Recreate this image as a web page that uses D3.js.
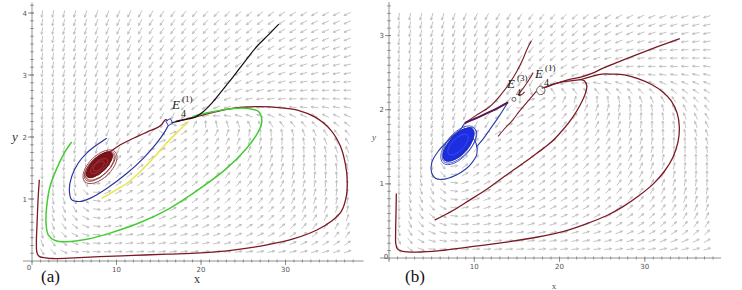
<!DOCTYPE html>
<html>
<head>
<meta charset="utf-8">
<script src="https://cdn.jsdelivr.net/npm/d3@7"></script>
<style>
body { margin: 0; background: #fff; }
svg { display: block; }
</style>
</head>
<body>
<div id="chart"></div>
<script>
// direction field: screen angle in degrees (0 = right, 90 = up)
var fieldX = [1, 5, 9, 13, 17, 21, 25, 29, 33, 37];
var fieldY = [0.1, 0.5, 1.0, 1.5, 2.0, 2.5, 3.0, 3.5, 4.0];
var fieldAngle = [
  [-60, -5, 2, 3, 4, 5, 6, 8, 10, 14],
  [-88, -35, 8, 14, 18, 22, 27, 35, 48, 62],
  [-90, -70, 20, 30, 35, 40, 47, 57, 70, 85],
  [-92, -100, 60, 35, 40, 45, 55, 68, 85, 100],
  [-93, -100, -115, -140, 30, 55, 70, 88, 105, 125],
  [-95, -102, -110, -118, -130, -155, -172, 180, 175, 170],
  [-97, -105, -112, -120, -128, -138, -150, -160, -167, -170],
  [-98, -105, -112, -120, -127, -135, -143, -150, -156, -160],
  [-98, -105, -112, -118, -125, -132, -138, -144, -150, -155]
];

// panel (a) trajectories
var aMaroonLoop = [[0.87,1.31],[0.72,1.0],[0.6,0.6],[0.52,0.3],[0.6,0.13],[0.9,0.07],[1.6,0.05],[2.5,0.04],[5,0.05],[8,0.07],[12,0.09],[16,0.11],[19.9,0.13],[24,0.18],[27.8,0.26],[31,0.36],[33.7,0.5],[35.5,0.65],[36.6,0.8],[37.2,1.05],[37.3,1.3],[37.1,1.55],[36.5,1.85],[35.3,2.12],[33.5,2.32],[31.5,2.43],[29.5,2.47],[27,2.49],[25,2.48],[23.2,2.45],[21.2,2.39],[19.5,2.33],[18.2,2.29],[17,2.25]];
var aMaroonUpper = [[8.84,1.73],[9.23,1.76],[10.4,1.87],[12,1.98],[13.6,2.08],[14.95,2.16],[15.4,2.21],[15.8,2.28],[16.05,2.26]];
var aBlue = [[8.84,1.98],[7.65,1.87],[6.47,1.74],[5.48,1.58],[4.69,1.36],[4.42,1.15],[4.69,0.99],[5.68,0.96],[6.86,1.01],[8.84,1.17],[11.2,1.41],[13.2,1.66],[14.75,1.9],[15.74,2.09],[16.1,2.18]];
var aYellow = [[8.24,1.01],[9.63,1.12],[11.2,1.25],[12.8,1.44],[14.36,1.66],[15.9,1.9],[17.3,2.09],[18.5,2.25]];
var aGreen = [[4.69,1.92],[3.9,1.76],[2.92,1.49],[2.13,1.2],[1.74,0.88],[1.66,0.61],[1.93,0.42],[2.72,0.33],[4.1,0.31],[6.47,0.35],[9.23,0.45],[12.8,0.62],[16.3,0.85],[19.9,1.17],[23.0,1.49],[25.4,1.82],[26.8,2.09],[27.2,2.26],[26.8,2.41],[25.6,2.46],[23.8,2.46],[21.85,2.42],[20.1,2.37],[19.1,2.33]];
var aBlack = [[16.5,2.23],[17.5,2.26],[18.5,2.29],[19.3,2.32],[20.1,2.39],[20.9,2.49],[21.8,2.63],[22.8,2.8],[23.8,2.97],[25.2,3.22],[26.6,3.46],[28,3.65],[29.2,3.82]];
// spiral around the focus: [x1, y1, x2, y2, minor/major]
var aSpiralFill = [[6.55,1.36,9.4,1.74,0.42]];
var aSpiralRings = [[6.35,1.31,9.7,1.74,0.46],[6.25,1.28,9.85,1.76,0.52],[6.45,1.33,9.55,1.73,0.5],[6.9,1.42,9.0,1.66,0.3]];
var aEquilibrium = [16.25, 2.24];

// panel (b) trajectories
var bMaroonLoop = [[0.86,0.87],[0.82,0.6],[0.78,0.35],[0.8,0.19],[1.0,0.12],[1.6,0.09],[3.2,0.08],[6,0.1],[9.5,0.15],[13.5,0.21],[17.3,0.28],[20.5,0.36],[23.1,0.46],[25.5,0.57],[27.4,0.69],[29.3,0.84],[31,1.0],[32.3,1.17],[33.3,1.36],[33.9,1.57],[34.05,1.76],[33.8,1.95],[33.1,2.12],[32.1,2.24],[30.8,2.34],[29.2,2.42],[27.6,2.47],[26.2,2.48],[25,2.48],[23.8,2.45],[22.6,2.41],[21.3,2.39],[20.1,2.37],[19.1,2.34],[18.3,2.3]];
var bMaroonInner = [[5.35,0.51],[7.5,0.64],[9.45,0.78],[11.5,0.93],[13.4,1.09],[15.4,1.25],[17.3,1.41],[19,1.56],[20.4,1.73],[21.5,1.89],[22.4,2.06],[23.0,2.21],[23.2,2.32],[22.9,2.39],[22.3,2.41]];
var bMaroonUp = [[17.9,2.29],[19,2.33],[20,2.37],[21.2,2.41],[22.5,2.44],[23.8,2.49],[25.1,2.56],[27,2.65],[29,2.74],[31.5,2.85],[34.1,2.96]];
var bMaroonDown = [[17.3,2.25],[16.7,2.17],[16.1,2.09],[15.3,1.98],[14.5,1.86],[13.6,1.75],[12.8,1.64]];
var bMaroonSpiralUp = [[8.9,1.82],[10.3,1.93],[11.8,2.04],[13.1,2.2],[14.15,2.36],[15.0,2.52],[15.7,2.68],[16.2,2.82],[16.7,2.93]];
var bMaroonShort = [[16.9,2.5],[16.4,2.4],[15.8,2.3],[15.2,2.2],[15.5,2.2],[15.9,2.24]];
var bMaroonTop = [[8.9,1.82],[10.5,1.9],[12.2,1.99],[13.95,2.1]];
var bBlueOuter = [[13.95,2.1],[12.2,1.99],[10.5,1.9],[8.9,1.82],[8.5,1.75],[7.1,1.6],[5.77,1.44],[5.0,1.28],[5.0,1.15],[5.4,1.08],[6.2,1.06],[7.9,1.12],[9.0,1.2],[9.7,1.28],[10.3,1.4],[10.2,1.55],[9.6,1.65]];
var bBlueInner = [[13.95,2.1],[12.9,1.91],[11.8,1.73],[11,1.6],[10.25,1.5]];
var bSpiralFill = [[6.55,1.32,9.8,1.74,0.44]];
var bSpiralRings = [[6.35,1.28,9.95,1.76,0.5],[6.45,1.3,10.1,1.74,0.46],[6.6,1.34,9.6,1.72,0.55]];
var bEquilibria = [[14.65,2.14,2],[17.8,2.26,4.2]];

var xTicks = [0, 10, 20, 30];
var aYTicks = [1, 2, 3, 4];
var bYTicks = [1, 2, 3];

var svg = d3.select("#chart").append("svg")
  .attr("width", 742).attr("height", 290);

function fieldDir(x, y) {
  var i = d3.bisectRight(fieldX, x) - 1, j = d3.bisectRight(fieldY, y) - 1;
  i = Math.max(0, Math.min(fieldX.length - 2, i));
  j = Math.max(0, Math.min(fieldY.length - 2, j));
  var tx = Math.max(0, Math.min(1, (x - fieldX[i]) / (fieldX[i+1] - fieldX[i])));
  var ty = Math.max(0, Math.min(1, (y - fieldY[j]) / (fieldY[j+1] - fieldY[j])));
  var vx = 0, vy = 0;
  [[i,j,(1-tx)*(1-ty)],[i+1,j,tx*(1-ty)],[i,j+1,(1-tx)*ty],[i+1,j+1,tx*ty]].forEach(function(c) {
    var a = fieldAngle[c[1]][c[0]] * Math.PI / 180;
    vx += c[2] * Math.cos(a); vy += c[2] * Math.sin(a);
  });
  var n = Math.sqrt(vx*vx + vy*vy) || 1;
  return [vx/n, -vy/n];
}

function panel(opt) {
  var x = d3.scaleLinear().domain(opt.xDomain).range(opt.xRange);
  var y = d3.scaleLinear().domain(opt.yDomain).range(opt.yRange);
  var g = svg.append("g");

  // arrows
  var cols = d3.range(opt.gridX[0], opt.gridX[1] + 0.001, opt.gridX[2]);
  var rows = d3.range(opt.gridY[0], opt.gridY[1] + 0.001, opt.gridY[2]);
  var pts = [];
  cols.forEach(function(cx) { rows.forEach(function(cy) { pts.push([cx, cy]); }); });
  g.append("g").selectAll("path")
    .data(pts)
    .enter().append("path")
    .attr("d", function(d) {
      var dir = fieldDir(d[0], d[1]);
      var sx = x(d[0]), sy = y(d[1]), L = 3.6;
      var x0 = sx - dir[0]*L, y0 = sy - dir[1]*L, x1 = sx + dir[0]*L, y1 = sy + dir[1]*L;
      var ang = Math.atan2(dir[1], dir[0]), h = 2.6, w = 0.45;
      var hx1 = x1 - h*Math.cos(ang - w), hy1 = y1 - h*Math.sin(ang - w);
      var hx2 = x1 - h*Math.cos(ang + w), hy2 = y1 - h*Math.sin(ang + w);
      return "M" + x0 + "," + y0 + "L" + x1 + "," + y1 +
        "M" + hx1 + "," + hy1 + "L" + x1 + "," + y1 + "L" + hx2 + "," + hy2;
    })
    .style("fill", "none")
    .attr("stroke", "#bcbcbc")
    .style("stroke-width", 0.9);

  // axes
  var ax = g.append("g").attr("stroke", "#777").style("stroke-width", 0.8);
  ax.append("line").attr("x1", x(opt.xDomain[0]) - 9).attr("x2", x(opt.xDomain[1]) + 2)
    .attr("y1", y(0)).attr("y2", y(0));
  ax.append("line").attr("x1", x(0)).attr("x2", x(0))
    .attr("y1", y(opt.yDomain[1]) + 2).attr("y2", y(0) + 2);
  ax.selectAll(".ymin").data(d3.range(opt.yMinor, opt.yDomain[1], opt.yMinor))
    .enter().append("line")
    .attr("x1", x(0) - 1.8).attr("x2", x(0) + 1.8)
    .attr("y1", function(d) { return y(d); }).attr("y2", function(d) { return y(d); });
  ax.selectAll(".xmin").data(d3.range(1, opt.xDomain[1], 1))
    .enter().append("line")
    .attr("y1", y(0) - 1.5).attr("y2", y(0) + 1.5)
    .attr("x1", function(d) { return x(d); }).attr("x2", function(d) { return x(d); });
  ax.selectAll(".ymaj").data(opt.yTicks)
    .enter().append("line")
    .attr("x1", x(0) - 4).attr("x2", x(0) + 2)
    .attr("y1", function(d) { return y(d); }).attr("y2", function(d) { return y(d); });
  ax.selectAll(".xmaj").data(xTicks)
    .enter().append("line")
    .attr("y1", y(0)).attr("y2", y(0) + 4)
    .attr("x1", function(d) { return x(d); }).attr("x2", function(d) { return x(d); });

  g.selectAll(".ylab").data(opt.yTicks)
    .enter().append("text")
    .attr("x", x(0) - 5).attr("y", function(d) { return y(d) + 2.5; })
    .attr("text-anchor", "end")
    .style("font-family", "DejaVu Sans").style("font-size", "7px").style("fill", "#555")
    .text(function(d) { return d; });
  g.selectAll(".xlab").data(xTicks)
    .enter().append("text")
    .attr("x", function(d) { return d === 0 ? x(d) - 3 : x(d); })
    .attr("y", function(d) { return d === 0 ? y(0) + opt.zeroDy : y(0) + 11; })
    .attr("text-anchor", "middle")
    .style("font-family", "DejaVu Sans").style("font-size", "7px").style("fill", "#555")
    .text(function(d) { return d; });

  var line = d3.line().x(function(d) { return x(d[0]); }).y(function(d) { return y(d[1]); })
    .curve(d3.curveCatmullRom.alpha(0.5));

  function ellipses(list, fill, stroke, sw) {
    g.append("g").selectAll("ellipse").data(list).enter().append("ellipse")
      .attr("transform", function(d) {
        var x1 = x(d[0]), y1 = y(d[1]), x2 = x(d[2]), y2 = y(d[3]);
        var a = Math.atan2(y2 - y1, x2 - x1) * 180 / Math.PI;
        return "translate(" + ((x1 + x2) / 2) + "," + ((y1 + y2) / 2) + ")rotate(" + a + ")";
      })
      .attr("rx", function(d) { return Math.hypot(x(d[2]) - x(d[0]), y(d[3]) - y(d[1])) / 2; })
      .attr("ry", function(d) { return Math.hypot(x(d[2]) - x(d[0]), y(d[3]) - y(d[1])) / 2 * d[4]; })
      .style("fill", fill).attr("stroke", stroke).style("stroke-width", sw);
  }

  return { g: g, x: x, y: y, line: line, ellipses: ellipses };
}

function draw(p, data, color, width) {
  p.g.append("path").datum(data).attr("d", p.line)
    .style("fill", "none").attr("stroke", color).style("stroke-width", width);
}

function label(g, px, py, sup) {
  var t = g.append("g").style("font-family", "Liberation Serif").style("fill", "#222");
  t.append("text").attr("x", px).attr("y", py).style("font-size", "13px").style("font-style", "italic").text("E");
  t.append("text").attr("x", px + 9).attr("y", py + 8).style("font-size", "10px").text("4");
  t.append("text").attr("x", px + 10).attr("y", py - 7).style("font-size", "9px").text(sup);
}

// ----- panel (a)
var pa = panel({
  xDomain: [0, 39], xRange: [32, 361.6],
  yDomain: [0, 4.2], yRange: [261, 0.6],
  gridX: [1.2, 38.6, 1.29], gridY: [0.15, 4.0, 0.137],
  yTicks: aYTicks, yMinor: 0.125, zeroDy: 9
});
draw(pa, aMaroonLoop, "#7a1a24", 1.3);
draw(pa, aGreen, "#44cc33", 1.5);
draw(pa, aYellow, "#e6e64a", 1.5);
draw(pa, aBlue, "#2a3599", 1.2);
draw(pa, aMaroonUpper, "#7a1a24", 1.3);
draw(pa, aBlack, "#111", 1.2);
pa.ellipses(aSpiralRings, "none", "#8a2a30", 0.8);
pa.ellipses(aSpiralFill, "#7d1319", "#6a1015", 1);
pa.ellipses([[7.0,1.42,8.9,1.64,0.45],[7.3,1.46,8.5,1.6,0.5]], "none", "#a8454a", 0.6);
pa.g.append("rect")
  .attr("x", -2.6).attr("y", -2.6).attr("width", 5.2).attr("height", 5.2)
  .attr("transform", "translate(" + pa.x(aEquilibrium[0]) + "," + pa.y(aEquilibrium[1]) + ")rotate(-30)")
  .style("fill", "none").attr("stroke", "#3344bb").style("stroke-width", 0.9);
label(pa.g, 172, 109, "(1)");
svg.append("text").attr("x", 41).attr("y", 282).style("font-family", "Liberation Serif")
  .style("font-size", "17px").style("fill", "#111").text("(a)");
svg.append("text").attr("x", 197).attr("y", 283).attr("text-anchor", "middle")
  .style("font-family", "Liberation Serif").style("font-size", "12px").style("fill", "#333").text("x");
svg.append("text").attr("x", 12).attr("y", 141)
  .style("font-family", "Liberation Serif").style("font-style", "italic")
  .style("font-size", "13px").style("fill", "#333").text("y");

// ----- panel (b)
var pb = panel({
  xDomain: [0, 38.7], xRange: [389, 719],
  yDomain: [0, 3.48], yRange: [258, 0],
  gridX: [1.17, 38.4, 1.29], gridY: [0.12, 3.3, 0.112],
  yTicks: bYTicks, yMinor: 0.1, zeroDy: 1
});
draw(pb, bMaroonLoop, "#7a1a24", 1.3);
draw(pb, bMaroonInner, "#7a1a24", 1.3);
draw(pb, bMaroonUp, "#7a1a24", 1.3);
draw(pb, bMaroonDown, "#7a1a24", 1.1);
draw(pb, bMaroonSpiralUp, "#7a1a24", 1.1);
draw(pb, bMaroonShort, "#7a1a24", 1.1);
draw(pb, bBlueOuter, "#2a3aaa", 1.1);
draw(pb, bBlueInner, "#2a3aaa", 1.1);
draw(pb, bMaroonTop, "#5a1a50", 2);
pb.ellipses(bSpiralRings, "none", "#3344bb", 0.8);
pb.ellipses(bSpiralFill, "#1d2ee0", "#1a28c0", 1);
pb.ellipses([[7.0,1.4,9.2,1.66,0.45]], "none", "#4a5cf0", 0.6);
pb.g.selectAll(".eq").data(bEquilibria).enter().append("circle")
  .attr("cx", function(d) { return pb.x(d[0]); })
  .attr("cy", function(d) { return pb.y(d[1]); })
  .attr("r", function(d) { return d[2]; })
  .style("fill", "none").attr("stroke", "#555").style("stroke-width", 0.9);
label(pb.g, 507, 88, "(3)");
label(pb.g, 535, 78, "(1)");
svg.append("text").attr("x", 405).attr("y", 282).style("font-family", "Liberation Serif")
  .style("font-size", "17px").style("fill", "#111").text("(b)");
svg.append("text").attr("x", 554).attr("y", 289).attr("text-anchor", "middle")
  .style("font-family", "Liberation Serif").style("font-size", "9px").style("fill", "#555").text("x");
svg.append("text").attr("x", 372).attr("y", 140)
  .style("font-family", "Liberation Serif").style("font-style", "italic")
  .style("font-size", "9px").style("fill", "#555").text("y");
</script>
</body>
</html>
